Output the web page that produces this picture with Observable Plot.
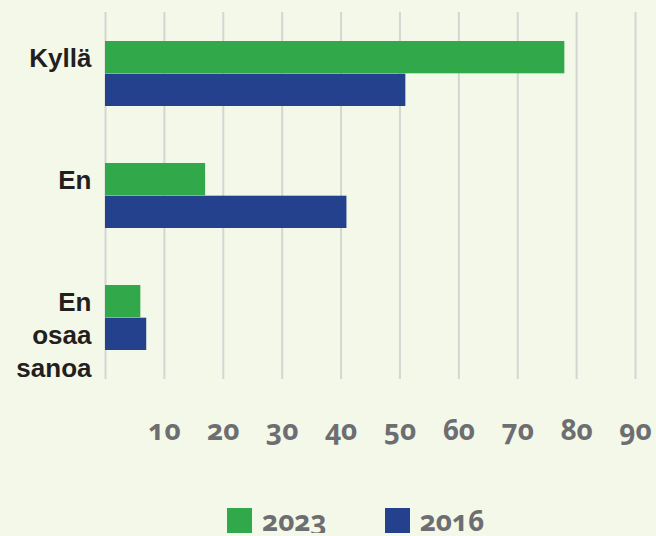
<!DOCTYPE html>
<html>
<head>
<meta charset="utf-8">
<script src="https://cdn.jsdelivr.net/npm/d3@7"></script>
<script src="https://cdn.jsdelivr.net/npm/@observablehq/plot@0.6"></script>
<style>
  html, body { margin: 0; padding: 0; background: #f4f8e9; overflow: hidden; }
  #chart svg { display: block; background: #f4f8e9; }
  .num text, .num { font-variant-numeric: oldstyle-nums; font-feature-settings: "onum" 1; }
  #legend { display: flex; align-items: flex-end; height: 25px; margin-top: 3px; padding-left: 227px;
            font-family: "Open Sans", sans-serif; font-weight: bold; font-size: 28px; color: #6d6e71; }
  #legend .item { display: flex; align-items: flex-end; margin-right: 58px; }
  #legend .sw { width: 25px; height: 25px; margin-right: 10px; }
  #legend .lab { line-height: 1; position: relative; top: 1px; }
</style>
</head>
<body>
<div id="chart"></div>
<div id="legend" class="num"></div>
<script>
const categories = ["Kyllä", "En", "En osaa sanoa"];
const categoryLabels = ["Kyllä", "En", "En\nosaa\nsanoa"];
const values2023 = [78, 17, 6];
const values2016 = [51, 41, 7];
const seriesNames = ["2023", "2016"];
const seriesColors = ["#31a94a", "#23418d"];
const xTicks = [10, 20, 30, 40, 50, 60, 70, 80, 90];
const gridTicks = [0, 10, 20, 30, 40, 50, 60, 70, 80, 90];

const rows2023 = categories.map((c, i) => ({category: c, value: values2023[i]}));
const rows2016 = categories.map((c, i) => ({category: c, value: values2016[i]}));
const labelOf = new Map(categories.map((c, i) => [c, categoryLabels[i]]));

const half = 32.7;

const plot = Plot.plot({
  width: 656,
  height: 505,
  marginLeft: 105,
  marginRight: 21,
  marginTop: 12,
  marginBottom: 126,
  style: {background: "#f4f8e9", overflow: "visible"},
  x: {domain: [0, 90], axis: null},
  y: {domain: categories, paddingInner: 0.467, paddingOuter: 0.228, axis: null},
  marks: [
    Plot.ruleX(gridTicks, {x: d => d, stroke: "#d4d6d1", strokeWidth: 2}),
    Plot.barX(rows2023, {x: "value", y: "category", fill: seriesColors[0], insetBottom: half}),
    Plot.barX(rows2016, {x: "value", y: "category", fill: seriesColors[1], insetTop: half}),
    Plot.text(categories, {
      y: d => d, text: d => labelOf.get(d), frameAnchor: "left", textAnchor: "end",
      lineAnchor: "top", dx: -14, dy: -31, lineHeight: 1.28,
      fontSize: 26, fontWeight: "bold", fontFamily: "Liberation Sans, Arial, sans-serif", fill: "#231f20"
    }),
    Plot.axisX({
      ticks: xTicks, tickSize: 0, tickPadding: 41, label: null, dx: 0,
      fontSize: 28, fontWeight: "bold", fontFamily: "Open Sans, sans-serif", fill: "#6d6e71",
      className: "num"
    })
  ]
});
document.getElementById("chart").appendChild(plot);

const legend = document.getElementById("legend");
seriesNames.forEach((name, i) => {
  const item = document.createElement("div");
  item.className = "item";
  const sw = document.createElement("div");
  sw.className = "sw";
  sw.style.background = seriesColors[i];
  const lab = document.createElement("span");
  lab.className = "lab";
  lab.textContent = name;
  item.appendChild(sw);
  item.appendChild(lab);
  legend.appendChild(item);
});
</script>
</body>
</html>
